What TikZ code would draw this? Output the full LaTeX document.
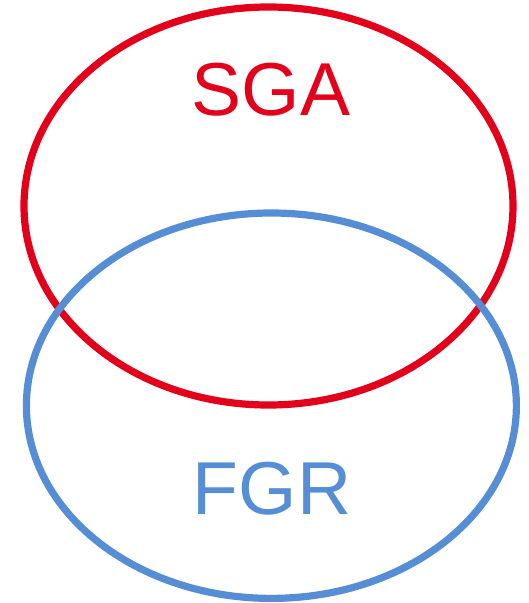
\documentclass[tikz,border=0pt]{standalone}
\usepackage{fontspec}
\setmainfont{Liberation Sans}
\definecolor{sgared}{HTML}{E3001B}
\definecolor{fgrblue}{HTML}{558ED5}
\begin{document}
\begin{tikzpicture}[x=1pt,y=-1pt,
  ring/.style={line width=7.2pt},
  lbl/.style={font=\fontsize{75}{75}\selectfont, inner sep=0pt}]
\useasboundingbox (0,0) rectangle (529,603);
\draw[ring, sgared] (268.5,206) ellipse [x radius=244.5, y radius=199];
\draw[ring, fgrblue] (271.4,405.7) ellipse [x radius=245, y radius=192.7];
\node[lbl, text=sgared, anchor=base] (sga) at (271,115) {SGA};
\node[lbl, text=fgrblue, anchor=base] (fgr) at (272,514) {FGR};
\end{tikzpicture}
\end{document}
